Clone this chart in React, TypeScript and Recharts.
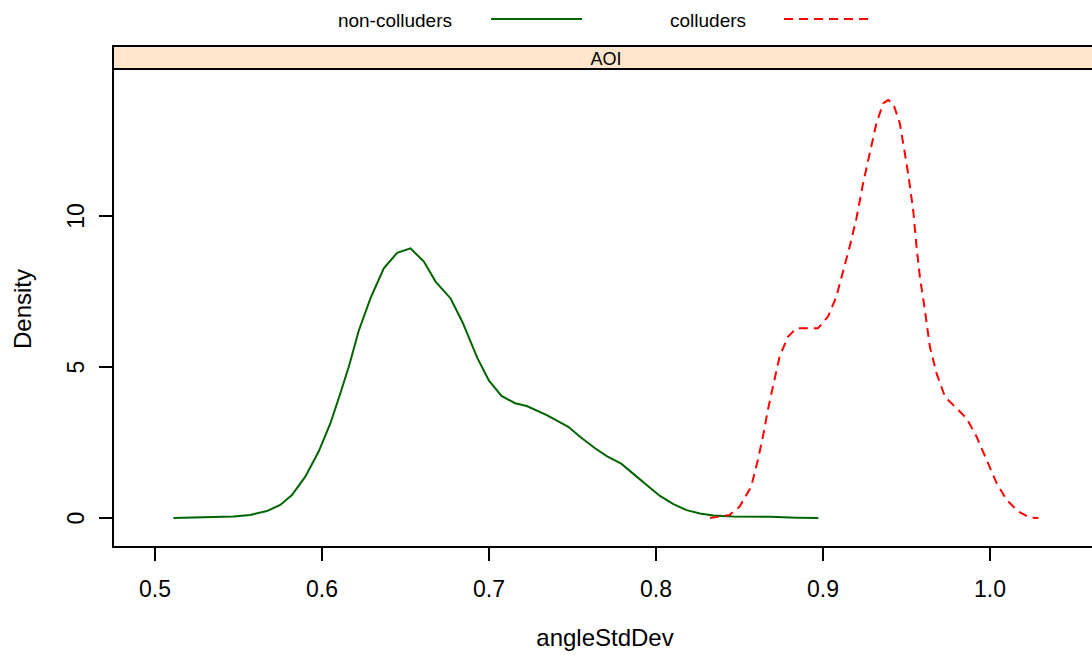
import { Line, LineChart, XAxis, YAxis } from "recharts";

const SERIES = ["non-colluders", "colluders"];
const COLORS = ["#006400", "#ff0000"];
const STRIP = "AOI";

const nonColluders = [
  { x: 0.511, y: 0 }, { x: 0.523, y: 0.02 }, { x: 0.547, y: 0.05 }, { x: 0.557, y: 0.1 },
  { x: 0.567, y: 0.23 }, { x: 0.575, y: 0.43 }, { x: 0.582, y: 0.76 }, { x: 0.59, y: 1.37 },
  { x: 0.598, y: 2.2 }, { x: 0.605, y: 3.13 }, { x: 0.611, y: 4.13 }, { x: 0.616, y: 5.0 },
  { x: 0.622, y: 6.2 }, { x: 0.629, y: 7.27 }, { x: 0.637, y: 8.27 }, { x: 0.645, y: 8.78 },
  { x: 0.653, y: 8.93 }, { x: 0.661, y: 8.49 }, { x: 0.668, y: 7.83 }, { x: 0.677, y: 7.27 },
  { x: 0.684, y: 6.5 }, { x: 0.693, y: 5.3 }, { x: 0.7, y: 4.55 }, { x: 0.7075, y: 4.04 },
  { x: 0.7156, y: 3.8 }, { x: 0.7226, y: 3.71 }, { x: 0.7346, y: 3.41 }, { x: 0.7475, y: 3.02 },
  { x: 0.7545, y: 2.69 }, { x: 0.7635, y: 2.31 }, { x: 0.7705, y: 2.05 }, { x: 0.7794, y: 1.79 },
  { x: 0.7884, y: 1.37 }, { x: 0.7944, y: 1.09 }, { x: 0.8024, y: 0.73 }, { x: 0.8104, y: 0.46 },
  { x: 0.8183, y: 0.26 }, { x: 0.8263, y: 0.15 }, { x: 0.8343, y: 0.08 }, { x: 0.8463, y: 0.05 },
  { x: 0.8683, y: 0.04 }, { x: 0.8842, y: 0.01 }, { x: 0.8972, y: 0 },
];

const colluders = [
  { x: 0.8323, y: 0 }, { x: 0.844, y: 0.1 }, { x: 0.85, y: 0.37 }, { x: 0.857, y: 1.04 },
  { x: 0.861, y: 1.92 }, { x: 0.864, y: 2.69 }, { x: 0.867, y: 3.58 }, { x: 0.87, y: 4.35 },
  { x: 0.874, y: 5.34 }, { x: 0.879, y: 6.0 }, { x: 0.884, y: 6.28 }, { x: 0.897, y: 6.28 },
  { x: 0.903, y: 6.67 }, { x: 0.908, y: 7.33 }, { x: 0.912, y: 8.16 }, { x: 0.916, y: 8.99 },
  { x: 0.92, y: 9.92 }, { x: 0.924, y: 11.08 }, { x: 0.928, y: 12.08 }, { x: 0.932, y: 13.07 },
  { x: 0.936, y: 13.73 }, { x: 0.939, y: 13.84 }, { x: 0.942, y: 13.73 }, { x: 0.946, y: 13.07 },
  { x: 0.949, y: 12.08 }, { x: 0.951, y: 11.4 }, { x: 0.954, y: 10.2 }, { x: 0.956, y: 8.99 },
  { x: 0.958, y: 7.99 }, { x: 0.961, y: 6.89 }, { x: 0.964, y: 5.67 }, { x: 0.968, y: 4.79 },
  { x: 0.973, y: 4.02 }, { x: 0.98, y: 3.63 }, { x: 0.986, y: 3.3 }, { x: 0.992, y: 2.69 },
  { x: 0.998, y: 1.92 }, { x: 1.004, y: 1.15 }, { x: 1.01, y: 0.6 }, { x: 1.017, y: 0.21 },
  { x: 1.024, y: 0.01 }, { x: 1.029, y: 0 },
];

const xTicks = [0.5, 0.6, 0.7, 0.8, 0.9, 1.0];
const yTicks = [0, 5, 10];

const FONT = "'Liberation Sans', Arial, sans-serif";
const W = 1092;
const H = 655;
const LEFT = 113;
const TOP = 69;
const BOTTOM = 547;

function XTick({ x, y, payload }: any) {
  return (
    <text x={x} y={y + 34} textAnchor="middle" fontSize={23} fontFamily={FONT} fill="#000">
      {Number(payload.value).toFixed(1)}
    </text>
  );
}

function YTick({ x, y, payload }: any) {
  return (
    <text transform={`translate(${x - 13},${y}) rotate(-90)`} textAnchor="middle" fontSize={23} fontFamily={FONT} fill="#000">
      {payload.value}
    </text>
  );
}

export default function App() {
  return (
    <div style={{ position: "absolute", left: 0, top: 0, width: W, height: H, background: "#fff" }}>
      <LineChart width={W} height={H} margin={{ top: TOP, right: 0, bottom: 0, left: 0 }}>
        <XAxis
          type="number"
          dataKey="x"
          domain={[0.47485, 1.06108]}
          ticks={xTicks}
          allowDataOverflow
          height={H - BOTTOM}
          tickSize={14}
          tick={<XTick />}
          stroke="#000"
          strokeWidth={2}
          axisLine={false}
        />
        <YAxis
          type="number"
          domain={[-0.96, 14.868]}
          ticks={yTicks}
          allowDataOverflow
          width={LEFT}
          tickSize={14}
          tick={<YTick />}
          stroke="#000"
          strokeWidth={2}
          axisLine={false}
        />
        <Line data={nonColluders} dataKey="y" type="linear" stroke={COLORS[0]} strokeWidth={2} dot={false} isAnimationActive={false} />
        <Line data={colluders} dataKey="y" type="linear" stroke={COLORS[1]} strokeWidth={2} strokeDasharray="9 6" dot={false} isAnimationActive={false} />
      </LineChart>
      <svg width={W} height={H} style={{ position: "absolute", left: 0, top: 0, pointerEvents: "none" }}>
        <rect x={LEFT} y={46} width={W} height={TOP - 46} fill="#ffe5cc" stroke="#000" strokeWidth={2} />
        <text x={606} y={65} textAnchor="middle" fontSize={18} fontFamily={FONT}>{STRIP}</text>
        <rect x={LEFT} y={TOP} width={W} height={BOTTOM - TOP} fill="none" stroke="#000" strokeWidth={2} />
        <text x={452} y={27} textAnchor="end" fontSize={19} fontFamily={FONT}>{SERIES[0]}</text>
        <line x1={491} x2={582} y1={19} y2={19} stroke={COLORS[0]} strokeWidth={2} />
        <text x={670} y={27} fontSize={19} fontFamily={FONT}>{SERIES[1]}</text>
        <line x1={784} x2={872} y1={19} y2={19} stroke={COLORS[1]} strokeWidth={2} strokeDasharray="9 6" />
        <text x={605} y={646} textAnchor="middle" fontSize={24} fontFamily={FONT}>angleStdDev</text>
        <text transform="translate(31,309) rotate(-90)" textAnchor="middle" fontSize={24} fontFamily={FONT}>Density</text>
      </svg>
    </div>
  );
}
